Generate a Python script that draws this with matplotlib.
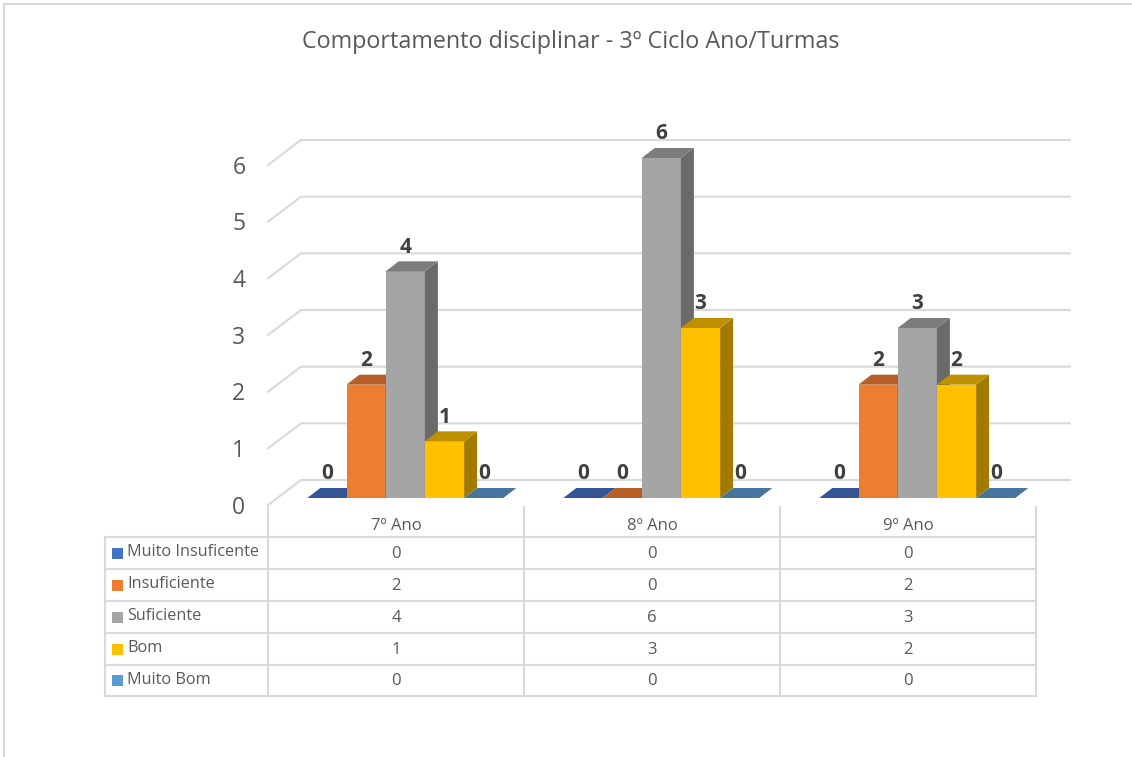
import matplotlib
matplotlib.use('Agg')
import matplotlib.pyplot as plt
from matplotlib.patches import Polygon, Rectangle

plt.rcParams['font.family'] = ['Open Sans', 'DejaVu Sans']

titulo = 'Comportamento disciplinar - 3º Ciclo Ano/Turmas'
anos = ['7º Ano', '8º Ano', '9º Ano']
series = ['Muito Insuficente', 'Insuficiente', 'Suficiente', 'Bom', 'Muito Bom']
muito_insuficiente = [0, 0, 0]
insuficiente = [2, 0, 2]
suficiente = [4, 6, 3]
bom = [1, 3, 2]
muito_bom = [0, 0, 0]
valores = [muito_insuficiente, insuficiente, suficiente, bom, muito_bom]
ticks_y = [0, 1, 2, 3, 4, 5, 6]

# cores: frente, topo, lado
cores = ['#4472C4', '#ED7D31', '#A5A5A5', '#FFC000', '#5B9BD5']
cores_topo = ['#335593', '#B55E25', '#7C7C7C', '#BF9000', '#44749F']
cores_lado = ['#2A4A80', '#8E4A1D', '#6A6A6A', '#A37A00', '#36607F']
cor_linha = '#D9D9D9'
cor_texto = '#595959'

W, H = 1132, 757
fig = plt.figure(figsize=(W / 100, H / 100), dpi=100, facecolor='white')

# camada de fundo em pixels: moldura, titulo e tabela
fundo = fig.add_axes([0, 0, 1, 1])
fundo.set_xlim(0, W)
fundo.set_ylim(H, 0)
fundo.axis('off')
fundo.plot([4, 4, W], [H, 4, 4], color=cor_linha, lw=1.5, solid_joinstyle='miter')
fundo.text(571, 41.5, titulo, ha='center', va='center', fontsize=16.85, color=cor_texto)

# eixo do grafico: 1 unidade x = 1 grupo, y em valores
ax = fig.add_axes([268 / W, 1 - 498 / H, 768 / W, 340 / H])
ax.set_xlim(0, 3)
ax.set_ylim(0, 6)
ax.axis('off')
ux = 768 / 3
uy = 340 / 6

# parede e grelha
for v in ticks_y:
    ax.plot([0, 33 / ux, 3 + 34 / ux], [v - 7 / uy, v + 18 / uy, v + 18 / uy],
            color=cor_linha, lw=1.5, clip_on=False, zorder=1)
    ax.annotate(str(v), (0, v - 7 / uy), xytext=(-21, -2), textcoords='offset points',
                ha='center', va='center', fontsize=16.5, color=cor_texto, annotation_clip=False)

# barras 3D
largura = 39.2 / ux
dx = 13 / ux
dy = 10 / uy
inicio = 39.3 / ux
z = 2
for g in range(len(anos)):
    for s in range(len(series)):
        v = valores[s][g]
        x0 = g + inicio + s * largura
        x1 = x0 + largura
        ax.bar(x0, v, width=largura, align='edge', color=cores[s], zorder=z, clip_on=False)
        if v > 0:
            ax.add_patch(Polygon([(x1, 0), (x1 + dx, dy), (x1 + dx, v + dy), (x1, v)],
                                 facecolor=cores_lado[s], edgecolor='none', zorder=z, clip_on=False))
        ax.add_patch(Polygon([(x0, v), (x1, v), (x1 + dx, v + dy), (x0 + dx, v + dy)],
                             facecolor=cores_topo[s], edgecolor='none', zorder=z, clip_on=False))
        z += 1
for g in range(len(anos)):
    for s in range(len(series)):
        v = valores[s][g]
        ax.annotate(str(v), (g + inicio + (s + 0.5) * largura, v), xytext=(0, 17.5),
                    textcoords='offset points', ha='center', va='center', fontsize=15,
                    fontweight='bold', color='#404040', annotation_clip=False, zorder=100)

# tabela de dados
col_x = [268, 524, 780, 1036]
lin_y = [537, 569, 601, 633, 665, 696]
for x in col_x:
    fundo.plot([x, x], [507, 696], color=cor_linha, lw=1.5)
fundo.plot([105, 105], [537, 696], color=cor_linha, lw=1.5)
for y in lin_y:
    fundo.plot([105, 1036], [y, y], color=cor_linha, lw=1.5)
for i, ano in enumerate(anos):
    fundo.text((col_x[i] + col_x[i + 1]) / 2, 526.5, ano, ha='center', va='center',
               fontsize=12, color=cor_texto)
for s, nome in enumerate(series):
    yc = (lin_y[s] + lin_y[s + 1]) / 2
    fundo.add_patch(Rectangle((112, yc - 5.5), 11, 11, facecolor=cores[s], edgecolor='none'))
    fundo.text(127, yc - 0.5, nome, ha='left', va='center', fontsize=11.7, color=cor_texto)
    for i in range(len(anos)):
        fundo.text((col_x[i] + col_x[i + 1]) / 2, yc + 0.5, str(valores[s][i]), ha='center', va='center',
                   fontsize=12, color=cor_texto)

fig.savefig('out.png', dpi=100)
